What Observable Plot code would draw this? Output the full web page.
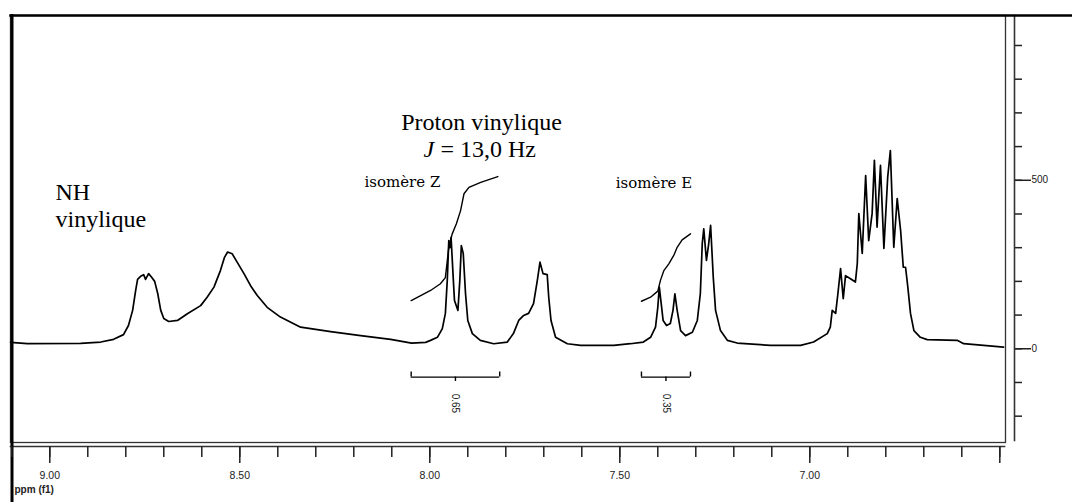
<!DOCTYPE html>
<html><head><meta charset="utf-8">
<script src="https://cdn.jsdelivr.net/npm/d3@7"></script>
<script src="https://cdn.jsdelivr.net/npm/@observablehq/plot@0.6"></script>
<style>body{margin:0;background:#fff} #chart svg{display:block}</style>
</head><body><div id="chart"></div>
<script>
// Chemical shift (ppm) and intensity of the 1H NMR trace
const ppm = [
  9.103, 9.059, 8.919, 8.866, 8.832, 8.806, 8.793, 8.782, 8.774, 8.769, 8.761, 8.753, 8.748, 8.740, 8.732, 8.724,
  8.716, 8.708, 8.700, 8.687, 8.664, 8.638, 8.603, 8.586, 8.568, 8.551, 8.540, 8.532, 8.520, 8.507, 8.489, 8.472,
  8.454, 8.428, 8.393, 8.340, 8.261, 8.182, 8.103, 8.048, 8.011,
  7.998, 7.980, 7.967, 7.959, 7.954, 7.950, 7.947, 7.944, 7.938, 7.935, 7.926, 7.921, 7.917, 7.912, 7.906, 7.900,
  7.888, 7.867, 7.832, 7.796, 7.780, 7.766, 7.753, 7.740, 7.727, 7.717, 7.710, 7.702, 7.691, 7.687, 7.681, 7.669,
  7.638, 7.603, 7.516, 7.472,
  7.438, 7.419, 7.406, 7.400, 7.396, 7.391, 7.386, 7.377, 7.367, 7.360, 7.355, 7.349, 7.340, 7.327, 7.309, 7.296,
  7.288, 7.283, 7.279, 7.272, 7.266, 7.261, 7.254, 7.248, 7.235, 7.217, 7.191, 7.103, 7.024,
  6.990, 6.954, 6.946, 6.941, 6.932, 6.926, 6.919, 6.912, 6.906, 6.893, 6.880, 6.875, 6.871, 6.862, 6.853, 6.845,
  6.836, 6.830, 6.823, 6.814, 6.805, 6.795, 6.788, 6.779, 6.770, 6.761, 6.754, 6.748, 6.742, 6.735, 6.726, 6.709,
  6.691, 6.612, 6.595, 6.490
];
const intensity = [
  19, 15, 16, 20, 28, 42, 69, 114, 173, 206, 215, 220, 206, 223, 212, 200,
  164, 114, 90, 81, 84, 104, 128, 153, 183, 232, 272, 287, 282, 257, 223, 188,
  158, 123, 94, 64, 51, 39, 28, 17, 19,
  25, 34, 60, 105, 203, 321, 300, 331, 203, 143, 114, 203, 306, 283, 164, 84,
  45, 25, 15, 20, 45, 84, 99, 105, 134, 203, 257, 223, 220, 153, 84, 34,
  15, 10, 10, 15,
  20, 34, 64, 123, 183, 134, 84, 69, 75, 114, 163, 114, 54, 39, 49, 84,
  164, 312, 356, 262, 312, 366, 212, 114, 54, 25, 17, 10, 10,
  20, 45, 64, 114, 105, 164, 238, 149, 217, 208, 198, 253, 401, 283, 514, 321,
  401, 559, 361, 544, 298, 509, 588, 301, 446, 351, 242, 242, 183, 105, 54, 34,
  27, 25, 15, 5
];
// Integral curves
const integralZppm = [8.049, 8.024, 7.998, 7.972, 7.959, 7.950, 7.941, 7.930, 7.919, 7.910, 7.897, 7.866, 7.821];
const integralZ    = [143, 158, 173, 193, 211, 301, 341, 371, 410, 460, 479, 494, 511];
const integralEppm = [7.443, 7.419, 7.400, 7.393, 7.384, 7.371, 7.358, 7.349, 7.336, 7.314];
const integralE    = [141, 153, 171, 203, 232, 252, 277, 301, 323, 341];
// Integration ranges and values
const integralLabels = ["0.65", "0.35"];
const integralFrom = [8.049, 7.443];
const integralTo   = [7.816, 7.314];
// Axis ticks
const xMajorTicks = [9.0, 8.5, 8.0, 7.5, 7.0, 6.5];
const xMinorTicks = [9.1, 9.0, 8.9, 8.8, 8.7, 8.6, 8.5, 8.4, 8.3, 8.2, 8.1, 8.0, 7.9, 7.8, 7.7, 7.6, 7.5, 7.4, 7.3, 7.2, 7.1, 7.0, 6.9, 6.8, 6.7, 6.6, 6.5];
const yMinorTicks = [-200, -100, 0, 100, 200, 300, 400, 500, 600, 700, 800, 900];
const yLabelTicks = [0, 500];
// Annotation texts
const annotText = ["NH\nvinylique", "Proton vinylique", "isomère Z", "isomère E"];
const annotPpm  = [8.985, 7.864, 8.072, 7.410];
const annotI    = [496, 700, 493, 490];

const spectrum = ppm.map((p, i) => ({ppm: p, I: intensity[i]}));
const intZ = integralZppm.map((p, i) => ({ppm: p, I: integralZ[i]}));
const intE = integralEppm.map((p, i) => ({ppm: p, I: integralE[i]}));
const ranges = integralLabels.map((l, i) => ({label: l, from: integralFrom[i], to: integralTo[i], mid: (integralFrom[i] + integralTo[i]) / 2}));
const annots = annotText.map((t, i) => ({text: t, ppm: annotPpm[i], I: annotI[i]}));

const bracketY = -84, capY = -69, midTickY = -97, labelY = -162;
const serif = "Liberation Serif, Times New Roman, serif";
const sans = "Liberation Sans, Arial, sans-serif";

const chart = Plot.plot({
  width: 1072, height: 502,
  marginLeft: 10, marginRight: 58, marginTop: 15, marginBottom: 56,
  x: {domain: [9.1034, 6.4613], label: null},
  y: {domain: [-290, 989], label: null},
  style: {background: "white", color: "#111", overflow: "visible"},
  marks: [
    Plot.frame({insetRight: 9, insetBottom: 4, stroke: "#333", strokeWidth: 1.3}),
    Plot.frame({anchor: "bottom", insetRight: 10, stroke: "#333", strokeWidth: 1.6}),
    Plot.frame({anchor: "right", insetBottom: 6, stroke: "#333", strokeWidth: 1.6}),
    Plot.frame({anchor: "top", insetRight: -58, stroke: "#000", strokeWidth: 2.5}),
    Plot.frame({anchor: "left", insetLeft: 1.5, insetBottom: -56, stroke: "#000", strokeWidth: 3}),
    Plot.axisX(xMinorTicks, {anchor: "bottom", tickSize: 11, tickFormat: () => "", stroke: "#222", strokeWidth: 1.5}),
    Plot.axisX(xMajorTicks, {anchor: "bottom", tickSize: 17, tickPadding: 8, tickFormat: d => d === 6.5 ? "" : d.toFixed(2), stroke: "#222", strokeWidth: 1.5, fontSize: 10.5, fontFamily: sans, fill: "#222"}),
    Plot.axisY(yMinorTicks, {anchor: "right", tickSize: 7, tickFormat: () => "", stroke: "#222", strokeWidth: 1.5}),
    Plot.axisY(yLabelTicks, {anchor: "right", tickSize: 16, tickPadding: 1, tickFormat: d => String(d), stroke: "#222", strokeWidth: 1.5, fontSize: 10, fontFamily: sans, fill: "#222"}),
    Plot.text(["ppm (f1)"], {frameAnchor: "bottom-left", dx: 4, dy: 46, textAnchor: "start", fontSize: 10, fontWeight: "bold", fontFamily: sans, fill: "#222"}),
    // spectrum
    Plot.line(spectrum, {x: "ppm", y: "I", stroke: "#000", strokeWidth: 1.7}),
    // integrals
    Plot.line(intZ, {x: "ppm", y: "I", stroke: "#000", strokeWidth: 1.4}),
    Plot.line(intE, {x: "ppm", y: "I", stroke: "#000", strokeWidth: 1.4}),
    // integration brackets
    Plot.ruleY(ranges, {x1: "from", x2: "to", y: () => bracketY, stroke: "#000", strokeWidth: 1.4}),
    Plot.ruleX(ranges, {x: "from", y1: () => bracketY, y2: () => capY, stroke: "#000", strokeWidth: 1.4}),
    Plot.ruleX(ranges, {x: "to", y1: () => bracketY, y2: () => capY, stroke: "#000", strokeWidth: 1.4}),
    Plot.ruleX(ranges, {x: "mid", y1: () => bracketY, y2: () => midTickY, stroke: "#000", strokeWidth: 1.4}),
    Plot.text(ranges, {x: "mid", y: () => labelY, text: "label", rotate: 90, fontSize: 10, fontFamily: sans, fill: "#222"}),
    // annotations
    Plot.text(annots.slice(0, 1), {x: "ppm", y: "I", text: "text", textAnchor: "start", lineAnchor: "top", fontSize: 24, lineHeight: 1.1, fontFamily: serif, fill: "#000"}),
    Plot.text(annots.slice(1, 2), {x: "ppm", y: "I", text: "text", textAnchor: "middle", lineAnchor: "top", fontSize: 24, fontFamily: serif, fill: "#000"}),
    Plot.text(["J"], {x: () => 8.0166, y: () => 620, textAnchor: "start", lineAnchor: "top", fontSize: 24, fontStyle: "italic", fontFamily: serif, fill: "#000"}),
    Plot.text(["= 13,0 Hz"], {x: () => 7.972, y: () => 620, textAnchor: "start", lineAnchor: "top", fontSize: 24, fontFamily: serif, fill: "#000"}),
    Plot.text(annots.slice(2), {x: "ppm", y: "I", text: "text", textAnchor: "middle", lineAnchor: "middle", fontSize: 15, fontFamily: "DejaVu Serif, serif", fill: "#000"})
  ]
});
document.getElementById("chart").appendChild(chart);
</script>
</body></html>
